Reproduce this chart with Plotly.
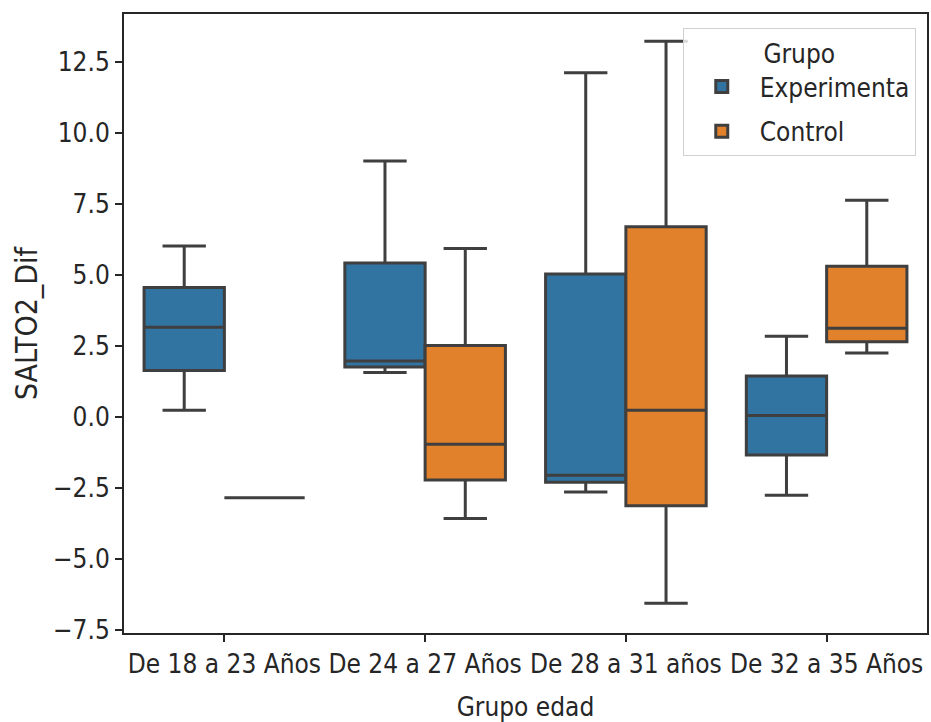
import plotly.graph_objects as go

categories = ["De 18 a 23 Años", "De 24 a 27 Años", "De 28 a 31 años", "De 32 a 35 Años"]

exp_lower = [0.24, 1.57, -2.64, -2.75]
exp_q1 = [1.64, 1.76, -2.30, -1.34]
exp_median = [3.16, 1.97, -2.05, 0.05]
exp_q3 = [4.56, 5.42, 5.03, 1.44]
exp_upper = [6.02, 9.01, 12.11, 2.84]

ctl_lower = [-2.84, -3.57, -6.55, 2.25]
ctl_q1 = [-2.84, -2.22, -3.12, 2.65]
ctl_median = [-2.84, -0.96, 0.24, 3.12]
ctl_q3 = [-2.84, 2.52, 6.69, 5.30]
ctl_upper = [-2.84, 5.93, 13.22, 7.63]

yticks = [-7.5, -5.0, -2.5, 0.0, 2.5, 5.0, 7.5, 10.0, 12.5]

FONT = "DejaVu Sans Condensed, DejaVu Sans, sans-serif"
EDGE = "#3f3f3f"

fig = go.Figure()
fig.add_trace(go.Box(
    name="Experimenta", x=categories,
    lowerfence=exp_lower, q1=exp_q1, median=exp_median, q3=exp_q3, upperfence=exp_upper,
    fillcolor="#3274a1", line=dict(color=EDGE, width=3),
    whiskerwidth=0.54, boxpoints=False, legendgroup="a",
))
fig.add_trace(go.Box(
    name="Control", x=categories,
    lowerfence=ctl_lower, q1=ctl_q1, median=ctl_median, q3=ctl_q3, upperfence=ctl_upper,
    fillcolor="#e1812c", line=dict(color=EDGE, width=3),
    whiskerwidth=0.54, boxpoints=False, legendgroup="b",
))

fig.update_layout(
    width=931, height=722,
    margin=dict(l=124, r=4, t=14, b=89, autoexpand=False),
    paper_bgcolor="white", plot_bgcolor="white",
    boxmode="group", boxgap=0.2, boxgroupgap=0.0,
    font=dict(family=FONT, size=26, color="#262626"),
    legend=dict(
        x=0.986, y=0.977, xanchor="right", yanchor="top",
        bgcolor="rgba(255,255,255,0.8)", bordercolor="#d0d0d0", borderwidth=1,
        title=dict(text="Grupo", side="top center", font=dict(size=26)),
        font=dict(size=26), tracegroupgap=8, itemwidth=66,
    ),
    xaxis=dict(
        type="category", range=[-0.5, 3.5], automargin=False,
        showline=True, mirror=True, linecolor="#262626", linewidth=2,
        ticks="outside", ticklen=7, tickwidth=1.5, tickcolor="#262626",
        showgrid=False, zeroline=False,
        title=dict(text="Grupo edad", standoff=20, font=dict(size=26)),
    ),
    yaxis=dict(
        range=[-7.6, 14.18], automargin=False,
        tickvals=yticks, tickformat=".1f",
        showline=True, mirror=True, linecolor="#262626", linewidth=2,
        ticks="outside", ticklen=7, tickwidth=1.5, tickcolor="#262626",
        showgrid=False, zeroline=False,
        title=dict(text="SALTO2_Dif", standoff=7, font=dict(size=30)),
    ),
)

fig.write_html("out.html", config={"displayModeBar": False},
               post_script="document.body.style.margin='0';")
